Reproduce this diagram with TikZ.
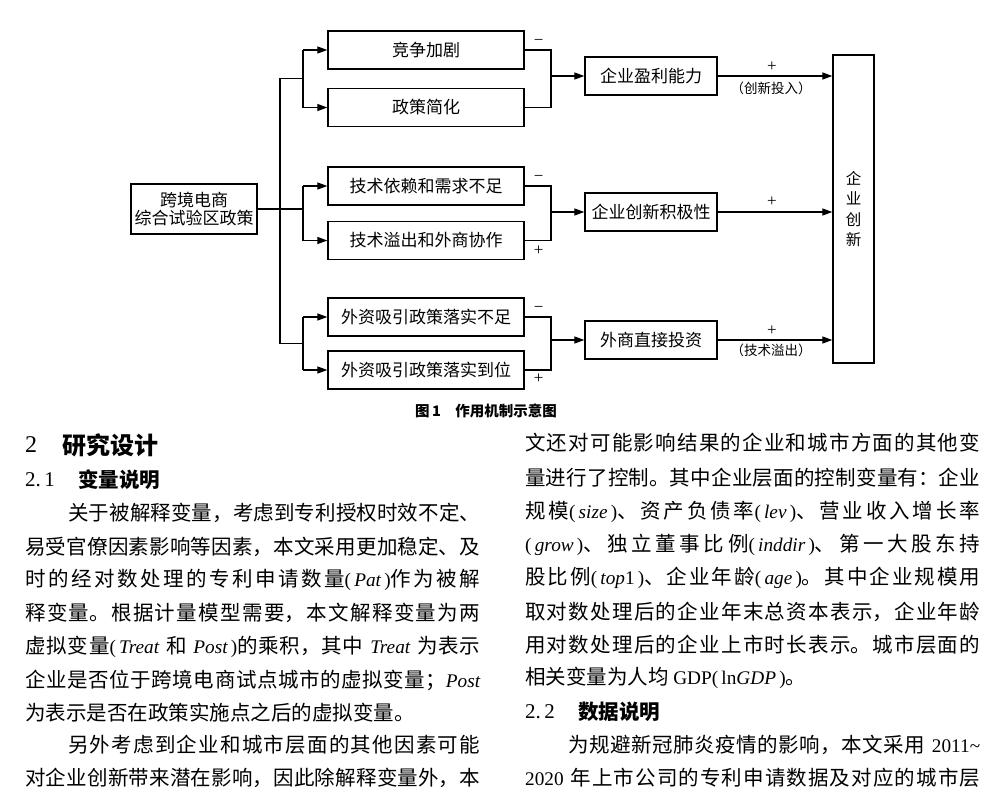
\documentclass[tikz,border=0pt]{standalone}
\usepackage{fontspec}
\usetikzlibrary{arrows.meta,calc}
\setmainfont{Noto Sans CJK SC}
\newfontfamily\lat[Scale=0.94]{Liberation Serif}
\newfontfamily\latd{Liberation Serif}
\newcommand\Lt[1]{{\lat #1}}
\newcommand\Li[1]{{\lat\itshape #1}}
\newcommand\Pv[1]{\Lt{(\,}\Li{#1}\Lt{\,)}}
\XeTeXlinebreaklocale "zh"
\XeTeXlinebreakskip=0pt plus 1fil
\begin{document}
\begin{tikzpicture}[x=1pt,y=-1pt,
  box/.style={draw, line width=1.3pt, inner sep=0pt, font=\fontsize{17}{20}\selectfont},
  mid/.style={box, minimum width=196pt, minimum height=38pt},
  res/.style={box, minimum width=132pt, minimum height=38pt},
  ln/.style={line width=1.2pt},
  arr/.style={line width=1.2pt, -{Triangle[length=10pt,width=7pt]}},
  sg/.style={inner sep=0pt, font=\fontsize{17}{17}\selectfont},
  lb/.style={inner sep=0pt, font=\fontsize{13.5}{15}\selectfont},
  tj/.style={anchor=west, inner sep=0pt, text width=#1, align=left, font=\fontsize{20.5}{24}\selectfont},
  tp/.style={anchor=west, inner sep=0pt, font=\fontsize{20.5}{24}\selectfont},
  hd/.style={anchor=west, inner sep=0pt, font=\fontsize{20.5}{24}\selectfont\bfseries},
]
\useasboundingbox (0,0) rectangle (1000,811);
\fill[white] (0,0) rectangle (1000,811);

% ---- diagram ----
\node[box, minimum width=126pt, minimum height=50pt, align=center] (L) at (194,209) {跨境电商\\[-2pt]综合试验区政策};
\node[mid] (A1) at (426,50) {竞争加剧};
\node[mid] (A2) at (426,107.5) {政策简化};
\node[mid] (B1) at (426,186) {技术依赖和需求不足};
\node[mid] (B2) at (426,240.5) {技术溢出和外商协作};
\node[mid] (C1) at (426,317) {外资吸引政策落实不足};
\node[mid] (C2) at (426,370) {外资吸引政策落实到位};
\node[res] (M1) at (651,76) {企业盈利能力};
\node[res] (M2) at (651,212) {企业创新积极性};
\node[res] (M3) at (651,340) {外商直接投资};
\node[box, minimum width=41pt, minimum height=308pt, align=center, font=\fontsize{15.5}{20.3}\selectfont] (R) at (853.5,209) {企\\业\\创\\新};

\coordinate (bx) at (303,0);
\coordinate (tx) at (280,0);
\coordinate (mx) at (551,0);
\coordinate (ta) at ($(A1.west)!.5!(A2.west)$);
\coordinate (tc) at ($(C1.west)!.5!(C2.west)$);

% left side
\draw[ln] (L.east) -- (bx |- L.east);
\draw[ln] (bx |- ta) -| (tx |- tc) -- (bx |- tc);
\draw[ln] (bx |- A1.west) -- (bx |- A2.west);
\draw[ln] (bx |- B1.west) -- (bx |- B2.west);
\draw[ln] (bx |- C1.west) -- (bx |- C2.west);
\foreach \n in {A1,A2,B1,B2,C1,C2}{\draw[arr] (bx |- \n.west) -- (\n.west);}

% right merges
\draw[ln] (A1.east) -| (mx |- A2.east) -- (A2.east);
\draw[ln] (B1.east) -| (mx |- B2.east) -- (B2.east);
\draw[ln] (C1.east) -| (mx |- C2.east) -- (C2.east);
\draw[arr] (mx |- M1.west) -- (M1.west);
\draw[arr] (mx |- M2.west) -- (M2.west);
\draw[arr] (mx |- M3.west) -- (M3.west);

\node[sg] (sa1) at ($(A1.east)+(14,-8)$) {\latd −};
\node[sg] (sb1) at ($(B1.east)+(14,-8)$) {\latd −};
\node[sg] (sb2) at ($(B2.east)+(14,10)$) {\latd +};
\node[sg] (sc1) at ($(C1.east)+(14,-8)$) {\latd −};
\node[sg] (sc2) at ($(C2.east)+(14,9)$) {\latd +};

% to enterprise innovation
\draw[arr] (M1.east) -- (R.west |- M1.east);
\draw[arr] (M2.east) -- (R.west |- M2.east);
\draw[arr] (M3.east) -- (R.west |- M3.east);
\node[sg] (p1) at (772,67) {\latd +};
\node[lb] (l1) at (771,88) {（创新投入）};
\node[sg] (p2) at (772,202) {\latd +};
\node[sg] (p3) at (772,331) {\latd +};
\node[lb] (l3) at (771,350) {（技术溢出）};

% caption
\node[anchor=west, inner sep=0pt, font=\fontsize{14.5}{16}\selectfont\bfseries] (cap) at (415,411) {图\,1\quad 作用机制示意图};

% ---- body text, left column ----
\node[anchor=west, inner sep=0pt, font=\fontsize{24}{26}\selectfont] (h1n) at (25,445) {\latd 2};
\node[anchor=west, inner sep=0pt, font=\fontsize{24}{26}\selectfont\bfseries] (h1) at (62,445) {研究设计};
\node[anchor=west, inner sep=0pt, font=\fontsize{21}{24}\selectfont] (h2n) at (25,480) {\latd 2.\,1};
\node[hd] (h2) at (78,480) {变量说明};

\node[tj=412pt] (a1) at (68,513) {\parfillskip=0pt 关于被解释变量，考虑到专利授权时效不定、\par};
\node[tj=455pt] (a2) at (25,547) {\parfillskip=0pt 易受官僚因素影响等因素，本文采用更加稳定、及\par};
\node[tj=455pt] (a3) at (25,580) {\parfillskip=0pt 时的经对数处理的专利申请数量\Pv{Pat}作为被解\par};
\node[tj=455pt] (a4) at (25,613) {\parfillskip=0pt 释变量。根据计量模型需要，本文解释变量为两\par};
\node[tj=455pt] (a5) at (25,647) {\parfillskip=0pt 虚拟变量\Lt{(\,}\Li{Treat} 和 \Li{Post}\Lt{\,)}的乘积，其中 \Li{Treat} 为表示\par};
\node[tj=455pt] (a6) at (25,680) {\parfillskip=0pt 企业是否位于跨境电商试点城市的虚拟变量；\Li{Post}\par};
\node[tp] (a7) at (25,713) {为表示是否在政策实施点之后的虚拟变量。};
\node[tj=412pt] (a8) at (68,745) {\parfillskip=0pt 另外考虑到企业和城市层面的其他因素可能\par};
\node[tj=455pt] (a9) at (25,778) {\parfillskip=0pt 对企业创新带来潜在影响，因此除解释变量外，本\par};

% ---- body text, right column ----
\node[tj=455pt] (b1) at (525,443) {\parfillskip=0pt 文还对可能影响结果的企业和城市方面的其他变\par};
\node[tj=455pt] (b2) at (525,478) {\parfillskip=0pt 量进行了控制。其中企业层面的控制变量有：企业\par};
\node[tj=455pt] (b3) at (525,512) {\parfillskip=0pt 规模\Pv{size}、资产负债率\Pv{lev}、营业收入增长率\par};
\node[tj=455pt] (b4) at (525,545) {\parfillskip=0pt \Pv{grow}、独立董事比例\Pv{inddir}、第一大股东持\par};
\node[tj=455pt] (b5) at (525,578) {\parfillskip=0pt 股比例\Lt{(\,}\Li{top}\Lt{1\,)}、企业年龄\Pv{age}。其中企业规模用\par};
\node[tj=455pt] (b6) at (525,612) {\parfillskip=0pt 取对数处理后的企业年末总资本表示，企业年龄\par};
\node[tj=455pt] (b7) at (525,645) {\parfillskip=0pt 用对数处理后的企业上市时长表示。城市层面的\par};
\node[tp] (b8) at (525,678) {相关变量为人均 \Lt{GDP(\,ln}\Li{GDP}\Lt{\,)}。};
\node[anchor=west, inner sep=0pt, font=\fontsize{21}{24}\selectfont] (h3n) at (525,712) {\latd 2.\,2};
\node[hd] (h3) at (578,712) {数据说明};
\node[tj=412pt] (b9) at (568,745) {\parfillskip=0pt 为规避新冠肺炎疫情的影响，本文采用 \Lt{2011\textasciitilde}\par};
\node[tj=455pt] (b10) at (525,778) {\parfillskip=0pt \Lt{2020} 年上市公司的专利申请数据及对应的城市层\par};
\end{tikzpicture}
\end{document}
